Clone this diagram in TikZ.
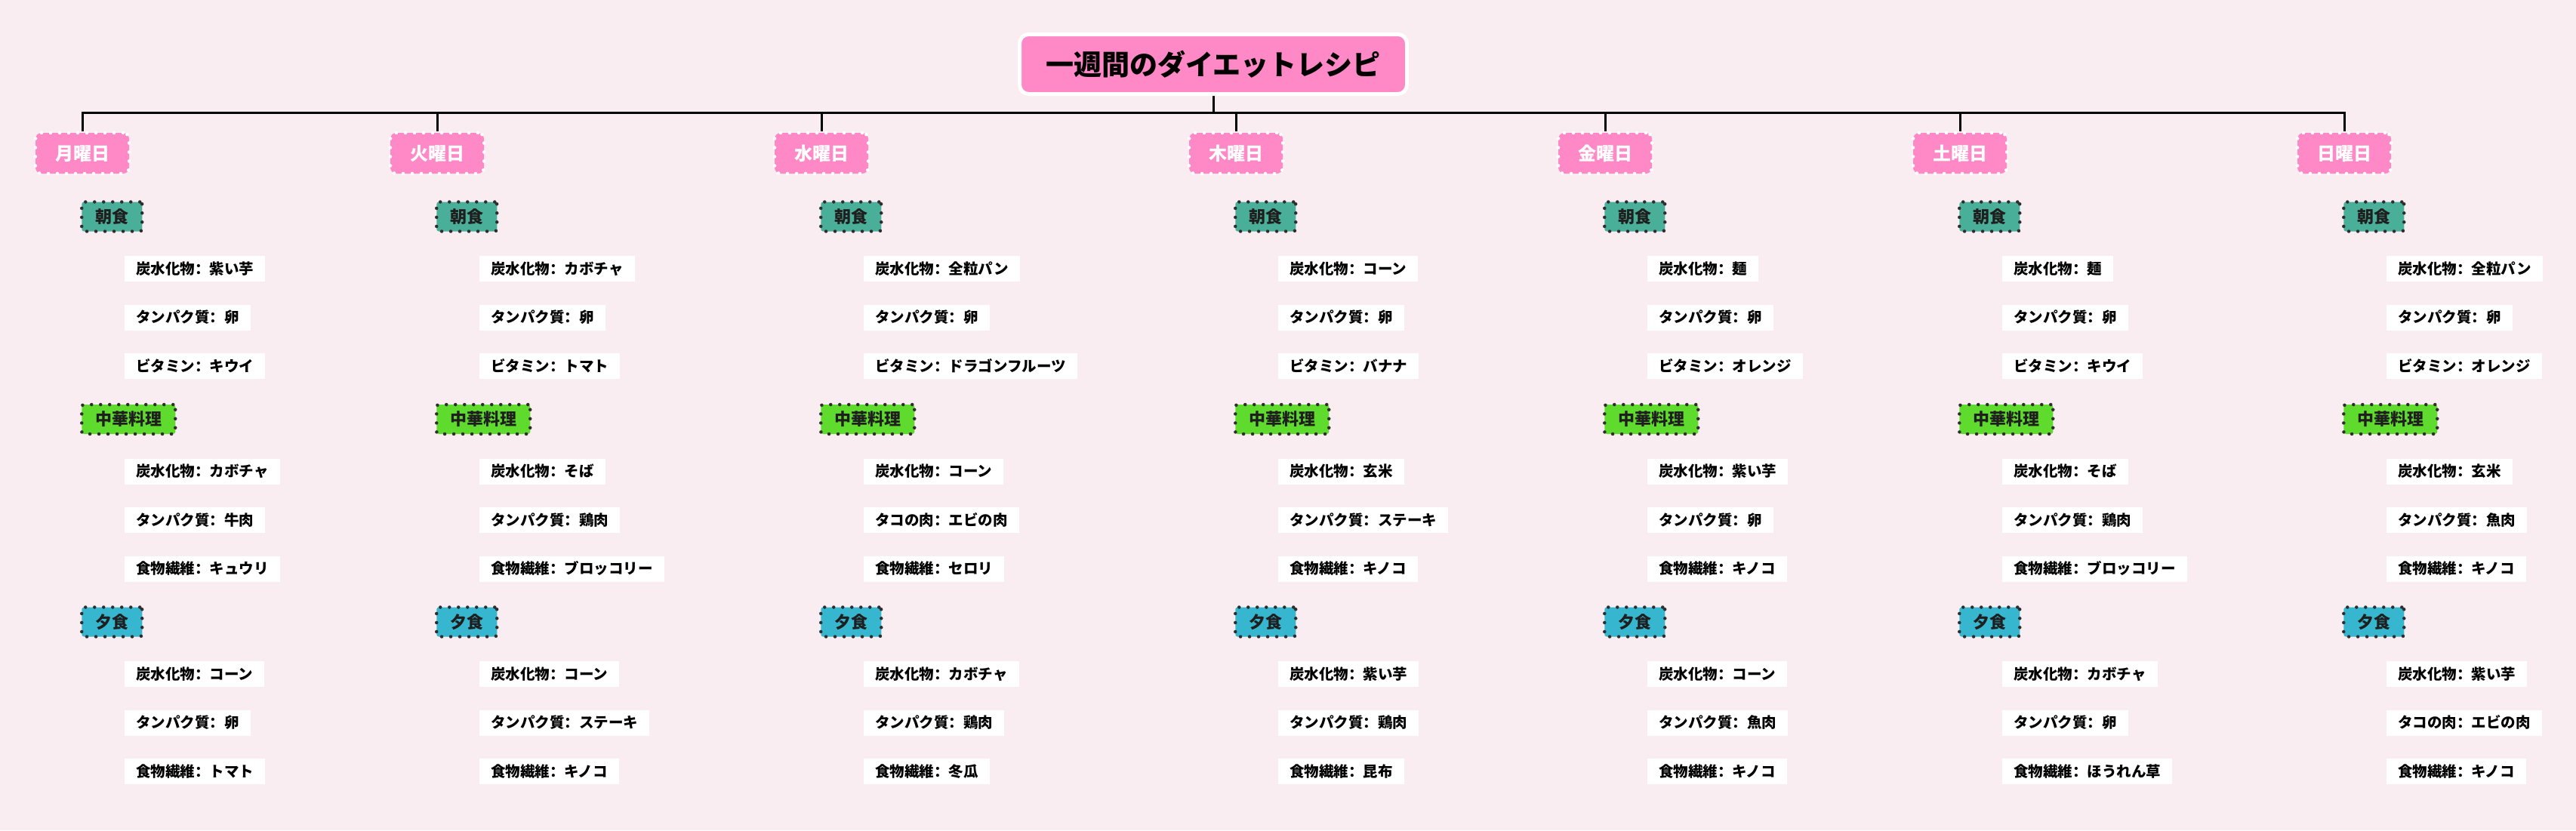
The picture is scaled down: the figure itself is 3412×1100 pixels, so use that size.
\documentclass[tikz,border=0pt]{standalone}
\usepackage{fontspec}
\setmainfont{Noto Sans CJK JP}
\newfontfamily\scfnt{Noto Sans CJK SC}
\newcommand\clnc{{\scfnt ：}}
\usetikzlibrary{backgrounds}
\definecolor{bg}{HTML}{FAEDF2}
\definecolor{rpink}{HTML}{FF88C6}
\definecolor{tealc}{HTML}{4AAF98}
\definecolor{grnc}{HTML}{5FDB2E}
\definecolor{cyanc}{HTML}{36B7CF}
\definecolor{dotc}{HTML}{2E2E2E}
\tikzset{
 rootbox/.style={draw=white, line width=5pt, fill=rpink, rounded corners=12pt,
   minimum width=513pt, minimum height=79pt, inner sep=0pt,
   font=\fontsize{37}{40}\selectfont\bfseries, text=black, text height=32.5pt, text depth=4.5pt},
 daybox/.style={draw=white, line width=4.5pt, dash pattern=on 0pt off 12pt, line cap=round,
   fill=rpink, rounded corners=8pt, minimum width=124pt, minimum height=54pt, inner sep=0pt,
   font=\fontsize{24}{26}\selectfont\bfseries, text=white, text height=21pt, text depth=3pt},
 mealbox/.style={draw=dotc, line width=4.5pt, dash pattern=on 0pt off 12pt, line cap=round,
   rounded corners=3pt, minimum height=39pt, inner xsep=18pt, inner ysep=0pt,
   font=\fontsize{22}{24}\selectfont\bfseries, text=black!88, text height=19.3pt, text depth=2.7pt, anchor=west},
 itembox/.style={fill=white, minimum height=34pt, inner xsep=15pt, inner ysep=0pt,
   font=\fontsize{19.5}{21}\selectfont\bfseries, text=black, text height=17pt, text depth=2.4pt, anchor=west},
 link/.style={draw=black, line width=3pt},
}
\newcommand\mkday[4]{%
 \node[daybox] (#1) at (#2,203) {#3};
 \node[mealbox, fill=tealc] (#1-b) at (#2-3,287) {朝食};
 \node[mealbox, fill=grnc] (#1-l) at (#2-3,555.5) {中華料理};
 \node[mealbox, fill=cyanc] (#1-d) at (#2-3,824) {夕食};
 \foreach \t [count=\i from 0] in {#4} {
   \pgfmathsetmacro\yy{356+268.5*floor(\i/3)+64.5*mod(\i,3)}
   \node[itembox] (#1-i\i) at (#2+56,\yy) {\t};
 }%
}
\begin{document}
\begin{tikzpicture}[x=1pt,y=-1pt]
\useasboundingbox (0,0) rectangle (3412,1100);
\begin{pgfonlayer}{background}
\fill[bg] (0,0) rectangle (3412,1100);
\end{pgfonlayer}
\node[rootbox] (root) at (1607,85) {一週間のダイエットレシピ};
\coordinate (bus) at (1607,149);
\mkday{d1}{109}{月曜日}{炭水化物\clnc 紫い芋,タンパク質\clnc 卵,ビタミン\clnc キウイ,炭水化物\clnc カボチャ,タンパク質\clnc 牛肉,食物繊維\clnc キュウリ,炭水化物\clnc コーン,タンパク質\clnc 卵,食物繊維\clnc トマト}
\mkday{d2}{579}{火曜日}{炭水化物\clnc カボチャ,タンパク質\clnc 卵,ビタミン\clnc トマト,炭水化物\clnc そば,タンパク質\clnc 鶏肉,食物繊維\clnc ブロッコリー,炭水化物\clnc コーン,タンパク質\clnc ステーキ,食物繊維\clnc キノコ}
\mkday{d3}{1088}{水曜日}{炭水化物\clnc 全粒パン,タンパク質\clnc 卵,ビタミン\clnc ドラゴンフルーツ,炭水化物\clnc コーン,タコの肉\clnc エビの肉,食物繊維\clnc セロリ,炭水化物\clnc カボチャ,タンパク質\clnc 鶏肉,食物繊維\clnc 冬瓜}
\mkday{d4}{1637}{木曜日}{炭水化物\clnc コーン,タンパク質\clnc 卵,ビタミン\clnc バナナ,炭水化物\clnc 玄米,タンパク質\clnc ステーキ,食物繊維\clnc キノコ,炭水化物\clnc 紫い芋,タンパク質\clnc 鶏肉,食物繊維\clnc 昆布}
\mkday{d5}{2126}{金曜日}{炭水化物\clnc 麺,タンパク質\clnc 卵,ビタミン\clnc オレンジ,炭水化物\clnc 紫い芋,タンパク質\clnc 卵,食物繊維\clnc キノコ,炭水化物\clnc コーン,タンパク質\clnc 魚肉,食物繊維\clnc キノコ}
\mkday{d6}{2596}{土曜日}{炭水化物\clnc 麺,タンパク質\clnc 卵,ビタミン\clnc キウイ,炭水化物\clnc そば,タンパク質\clnc 鶏肉,食物繊維\clnc ブロッコリー,炭水化物\clnc カボチャ,タンパク質\clnc 卵,食物繊維\clnc ほうれん草}
\mkday{d7}{3105}{日曜日}{炭水化物\clnc 全粒パン,タンパク質\clnc 卵,ビタミン\clnc オレンジ,炭水化物\clnc 玄米,タンパク質\clnc 魚肉,食物繊維\clnc キノコ,炭水化物\clnc 紫い芋,タコの肉\clnc エビの肉,食物繊維\clnc キノコ}
\begin{pgfonlayer}{background}
\draw[link] (root.south) -- (root.south |- bus);
\draw[link, line join=miter] (d1.north) -- (d1.north |- bus) -- (d7.north |- bus) -- (d7.north);
\foreach \d in {d2,d3,d4,d5,d6} {\draw[link] (\d.north) -- (\d.north |- bus);}
\end{pgfonlayer}
\end{tikzpicture}
\end{document}
